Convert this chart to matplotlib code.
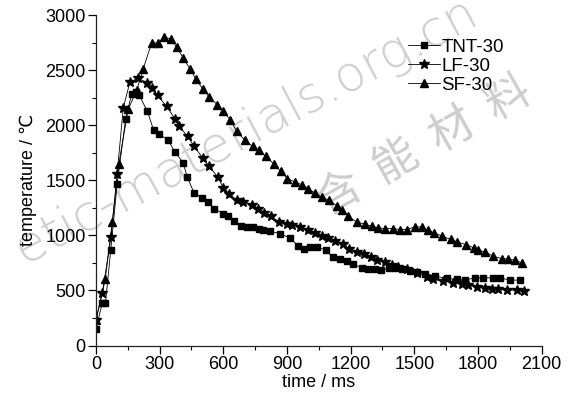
import matplotlib
matplotlib.use('Agg')
import matplotlib.pyplot as plt
from matplotlib.ticker import MultipleLocator

plt.rcParams['font.family'] = ['Liberation Sans Narrow', 'Liberation Sans', 'DejaVu Sans']
plt.rcParams['font.size'] = 13

# TNT-30
t_tnt = [0, 30, 45, 70, 100, 140, 168, 187, 204, 243, 272, 298, 341, 372, 411, 430,
         462, 498, 529, 557, 600, 623, 650, 683, 710, 741, 770, 789, 820, 867, 914,
         953, 982, 1008, 1040, 1084, 1115, 1150, 1181, 1213, 1252, 1283, 1315, 1343,
         1381, 1409, 1441, 1480, 1511, 1550, 1600, 1653, 1700, 1739, 1786, 1825,
         1872, 1904, 1950, 2000]
T_tnt = [150, 385, 385, 872, 1465, 2060, 2280, 2300, 2271, 2126, 1954, 1924, 1863,
         1757, 1661, 1530, 1389, 1343, 1304, 1244, 1198, 1174, 1129, 1086, 1077, 1077,
         1062, 1053, 1038, 1017, 977, 905, 875, 896, 896, 866, 800, 784, 766, 739, 705,
         694, 691, 684, 700, 700, 691, 678, 669, 654, 630, 609, 600, 594, 615, 615,
         615, 615, 594, 594]

# LF-30
t_lf = [0, 30, 71, 100, 129, 160, 199, 242, 262, 291, 333, 372, 393, 432, 463, 503,
        534, 574, 600, 628, 663, 691, 734, 765, 792, 823, 864, 899, 925, 961, 1000,
        1032, 1063, 1094, 1126, 1162, 1194, 1231, 1263, 1294, 1326, 1362, 1393, 1425,
        1464, 1511, 1558, 1590, 1637, 1684, 1723, 1754, 1794, 1833, 1865, 1896, 1935,
        1983, 2018]
T_lf = [231, 473, 986, 1561, 2160, 2392, 2425, 2386, 2337, 2271, 2171, 2060, 1990,
        1899, 1809, 1703, 1627, 1530, 1434, 1380, 1319, 1304, 1280, 1244, 1208, 1174,
        1122, 1102, 1099, 1077, 1053, 1023, 996, 972, 947, 920, 881, 850, 827, 800,
        775, 760, 730, 709, 691, 660, 624, 600, 585, 569, 558, 549, 533, 519, 513,
        510, 503, 503, 497]

# SF-30
t_sf = [0, 44, 77, 108, 152, 192, 223, 262, 293, 320, 352, 380, 411, 443, 471, 503,
        534, 572, 600, 632, 663, 702, 738, 770, 801, 839, 870, 902, 938, 969, 1001,
        1032, 1064, 1099, 1137, 1158, 1189, 1228, 1268, 1299, 1330, 1362, 1401, 1433,
        1464, 1503, 1535, 1566, 1594, 1632, 1672, 1703, 1742, 1781, 1802, 1833, 1872,
        1912, 1943, 1975, 2006]
T_sf = [230, 603, 1122, 1652, 2145, 2318, 2513, 2745, 2749, 2800, 2785, 2710, 2613,
        2513, 2419, 2332, 2256, 2187, 2129, 2051, 1948, 1863, 1809, 1772, 1718, 1646,
        1585, 1516, 1485, 1461, 1425, 1385, 1349, 1319, 1267, 1228, 1174, 1122, 1102,
        1083, 1068, 1062, 1062, 1053, 1053, 1077, 1077, 1047, 1023, 993, 963, 941,
        917, 887, 866, 850, 811, 790, 784, 775, 751]

fig = plt.figure(figsize=(5.71, 3.99), dpi=100)
ax = fig.add_axes([0.168, 0.134, 0.7805, 0.828])
ax.set_facecolor('none')

# watermark behind the data
wm = '#cdcdcd'
fig.text(0.842, 0.945, 'etic-materials.org.cn', color=wm, fontsize=36,
         family=['DejaVu Sans'], weight='light', rotation=28,
         rotation_mode='anchor', ha='right', va='baseline', zorder=-1)
fig.text(0.742, 0.635, '含  能  材  料', color=wm, fontsize=32,
         family=['Noto Sans CJK SC'], weight='light', rotation=29.5,
         rotation_mode='anchor', ha='center', va='center', zorder=-1)

lw = 0.6
ax.plot(t_tnt, T_tnt, color='k', lw=lw, marker='s', ms=4.9, label='TNT-30')
ax.plot(t_lf, T_lf, color='k', lw=lw, marker='*', ms=7.5, label='LF-30')
ax.plot(t_sf, T_sf, color='k', lw=lw, marker='^', ms=6, label='SF-30')

ax.set_xlim(0, 2100)
ax.set_ylim(0, 3000)
ax.xaxis.set_major_locator(MultipleLocator(300))
ax.xaxis.set_minor_locator(MultipleLocator(150))
ax.yaxis.set_major_locator(MultipleLocator(500))
ax.yaxis.set_minor_locator(MultipleLocator(250))

for s in ['top', 'right']:
    ax.spines[s].set_visible(False)
for s in ['left', 'bottom']:
    ax.spines[s].set_linewidth(0.9)
    ax.spines[s].set_color('#222222')
ax.tick_params(which='major', direction='out', length=5.5, width=0.9, pad=2)
ax.tick_params(which='minor', direction='out', length=3, width=0.8)

ax.set_xlabel('time / ms', labelpad=1)
ax.set_ylabel('temperature / ℃', labelpad=6)

ax.legend(loc='upper left', bbox_to_anchor=(0.714, 0.903), bbox_transform=fig.transFigure,
          frameon=False, fontsize=13.5, handlelength=1.7, handletextpad=0.1,
          labelspacing=0.1, borderpad=0, borderaxespad=0)

fig.savefig('out.png', dpi=100)
